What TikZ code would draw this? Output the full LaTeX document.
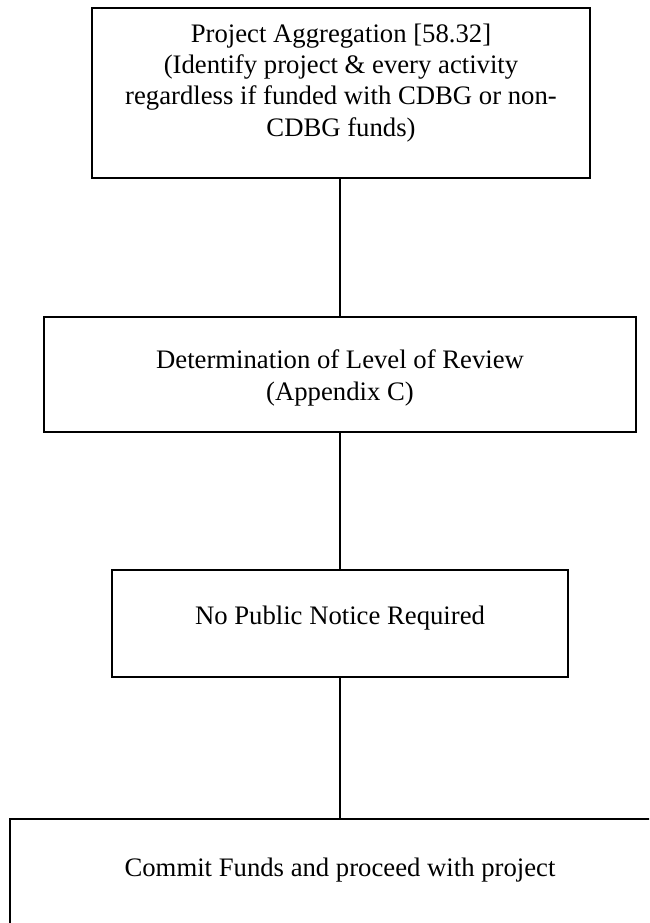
\documentclass[tikz,border=0pt]{standalone}
\usepackage{fontspec}
\setmainfont{Liberation Serif}
\begin{document}
\begin{tikzpicture}[x=1pt,y=-1pt,
  box/.style={draw, line width=2.2pt, inner sep=0pt, outer sep=0pt},
  conn/.style={line width=2pt},
  txt/.style={anchor=base, inner sep=0pt, font=\fontsize{26.7}{31}\selectfont}]
\useasboundingbox (0,0) rectangle (649,923);
\clip (0,0) rectangle (649,923);
\fill[white] (0,0) rectangle (649,923);
% boxes
\node[box, minimum width=498pt, minimum height=170pt] (b1) at (341,93) {};
\node[box, minimum width=592pt, minimum height=115pt] (b2) at (340,374.5) {};
\node[box, minimum width=456pt, minimum height=107pt] (b3) at (340,623.5) {};
\node[box, minimum width=690pt, minimum height=181pt] (b4) at (355,909.5) {};
% texts
\node[txt] (t1a) at (341,43) {Project Aggregation [58.32]};
\node[txt] (t1b) at (341,74) {(Identify project \& every activity};
\node[txt] (t1c) at (341,105) {regardless if funded with CDBG or non-};
\node[txt] (t1d) at (341,136) {CDBG funds)};
\node[txt] (t2a) at (340,368) {Determination of Level of Review};
\node[txt] (t2b) at (340,400) {(Appendix C)};
\node[txt] (t3) at (340,624) {No Public Notice Required};
\node[txt] (t4) at (340,876) {Commit Funds and proceed with project};
% connectors
\draw[conn] (b1.south -| b2.north) -- (b2.north);
\draw[conn] (b2.south) -- (b3.north);
\draw[conn] (b3.south) -- (b3.south |- b4.north);
\end{tikzpicture}
\end{document}
